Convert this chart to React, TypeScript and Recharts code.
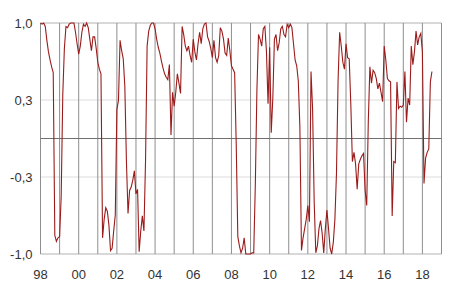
import React from 'react';
import { LineChart, Line, XAxis, YAxis, CartesianGrid, ReferenceLine } from 'recharts';

// monthly values, Jan 1998 onwards
const v98_00 = [
  1.0, 0.99, 1.0, 0.97, 0.85, 0.75, 0.68, 0.62, 0.57, -0.84, -0.89, -0.86,
  -0.85, -0.5, 0.38, 0.78, 0.97, 0.96, 0.99, 1.0, 1.0, 1.0, 0.92, 0.82,
  0.73, 0.8, 0.92, 0.99, 0.97, 1.0, 0.96, 0.86, 0.76, 0.88, 0.88, 0.78,
];
const v01_03 = [
  0.66, 0.6, 0.56, -0.86, -0.7, -0.6, -0.63, -0.75, -0.97, -0.95, -0.8, -0.66,
  0.25, 0.33, 0.85, 0.76, 0.69, 0.45, -0.2, -0.65, -0.45, -0.42, -0.36, -0.28,
  -0.48, -0.44, -0.98, -0.8, -0.67, -0.8, -0.2, 0.8, 0.93, 0.98, 1.0, 1.0,
];
const v04_06 = [
  0.95, 0.86, 0.79, 0.74, 0.67, 0.61, 0.56, 0.53, 0.51, 0.64, 0.03, 0.4,
  0.28, 0.4, 0.56, 0.48, 0.39, 0.97, 0.9, 0.8, 0.76, 0.8, 0.72, 0.66,
  0.86, 0.75, 0.68, 0.82, 0.92, 0.82, 0.95, 0.99, 1.0, 0.88, 0.84, 0.78,
];
const v07_09 = [
  0.7, 0.85, 0.7, 0.66, 0.72, 0.96, 0.93, 0.86, 0.74, 0.72, 0.87, 0.76,
  0.63, 0.6, 0.57, -0.05, -0.85, -0.93, -0.99, -0.95, -0.86, -1.0, -1.0, -1.0,
  -1.0, -0.99, -0.99, -0.4, 0.42, 0.9, 0.86, 0.8, 0.95, 0.97, 0.75, 0.3,
];
const v10_12 = [
  0.79, 0.05, 0.35, 0.86, 0.9, 0.76, 0.83, 0.95, 0.97, 0.9, 0.88, 0.99,
  0.96, 0.99, 0.96, 0.82, 0.68, 0.63, 0.5, 0.1, -0.97, -0.86, -0.78, -0.7,
  -0.58, -0.72, 0.58, 0.25, -0.55, -0.99, -0.93, -0.78, -0.71, -0.82, -0.99, -0.78,
];
const v13_15 = [
  -0.62, -0.78, -0.95, -1.0, -0.9, -0.7, -0.3, 0.5, 0.92, 0.8, 0.66, 0.6,
  0.82, 0.7, 0.69, 0.3, -0.2, -0.12, -0.22, -0.44, -0.22, -0.18, -0.15, -0.13,
  -0.45, -0.58, 0.15, 0.62, 0.48, 0.59, 0.57, 0.52, 0.43, 0.48, 0.4, 0.32,
];
const v16_18 = [
  0.8, 0.68, 0.52, 0.5, 0.49, -0.67, -0.2, -0.21, 0.49, 0.26, 0.28, 0.27,
  0.29, 0.58, 0.14, 0.35, 0.29, 0.8, 0.64, 0.75, 0.93, 0.81, 0.88, 0.91,
  0.75, -0.39, -0.17, -0.12, -0.09, 0.49, 0.58,
];

const startYear = 1998;
const years = Array.from({ length: 22 }, (_, i) => startYear + i); // 1998..2019 gridlines
const labelYears = [1998, 2000, 2002, 2004, 2006, 2008, 2010, 2012, 2014, 2016, 2018];
const yTicks = [-1, -1 / 3, 1 / 3, 1];

const values = [...v98_00, ...v01_03, ...v04_06, ...v07_09, ...v10_12, ...v13_15, ...v16_18];
const data = values.map((v, i) => ({ t: startYear + i / 12, v }));

const font = 'Liberation Sans, Arial, sans-serif';

export default function App() {
  return (
    <div style={{ position: 'absolute', left: 0, top: 0, background: '#fff' }}>
      <LineChart
        width={450}
        height={291}
        data={data}
        margin={{ top: 23, right: 8.5, left: 0, bottom: 0 }}
      >
        <CartesianGrid vertical={false} stroke="#dcdcdc" />
        <XAxis
          dataKey="t"
          type="number"
          domain={[1998, 2019]}
          ticks={labelYears}
          tickFormatter={(y) => String(y % 100).padStart(2, '0')}
          axisLine={false}
          tickLine={false}
          height={37}
          tickMargin={10}
          tick={{ fill: '#333', fontSize: 13, fontFamily: font }}
        />
        <YAxis
          domain={[-1, 1]}
          ticks={yTicks}
          width={40.5}
          axisLine={false}
          tickLine={false}
          tickFormatter={(v) => v.toFixed(1).replace('.', ',')}
          tick={{ fill: '#333', fontSize: 13, fontFamily: font }}
        />
        <ReferenceLine y={1} stroke="#c4c4c4" />
        <ReferenceLine y={-1} stroke="#c4c4c4" />
        {years.map((y) => (
          <ReferenceLine key={y} x={y} stroke="#8e8e8e" />
        ))}
        <ReferenceLine y={0} stroke="#707070" />
        <Line
          type="linear"
          dataKey="v"
          stroke="#9b1b1b"
          strokeWidth={1.1}
          dot={false}
          isAnimationActive={false}
        />
      </LineChart>
    </div>
  );
}
